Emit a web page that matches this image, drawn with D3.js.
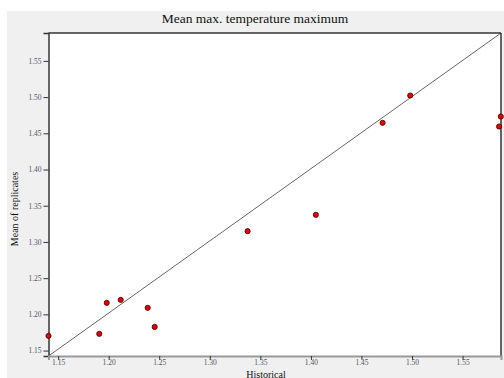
<!DOCTYPE html>
<html><head><meta charset="utf-8">
<script src="https://cdn.jsdelivr.net/npm/d3@7"></script>
<style>body{margin:0;background:#fff;}svg{display:block;}</style>
</head><body>
<svg id="c" width="504" height="378"></svg>
<script>
const title = "Mean max. temperature maximum";
const xLabel = "Historical";
const yLabel = "Mean of replicates";
const historical = [1.1405,1.1907,1.1981,1.2119,1.2386,1.2455,1.3374,1.4049,1.4709,1.4982,1.5878,1.5861];
const replicates = [1.1703,1.1731,1.2159,1.2200,1.2090,1.1827,1.3149,1.3374,1.4645,1.5022,1.4732,1.4594];
const xTicks = [1.15,1.20,1.25,1.30,1.35,1.40,1.45,1.50,1.55];
const yTicks = [1.15,1.20,1.25,1.30,1.35,1.40,1.45,1.50,1.55];
const xDomain = [1.1405, 1.588];
const yDomain = [1.1425, 1.5885];

const svg = d3.select("#c");
const L = 48.5, R = 501, T = 33, B = 356;
const x = d3.scaleLinear().domain(xDomain).range([L, R]);
const y = d3.scaleLinear().domain(yDomain).range([B, T]);

svg.append("rect").attr("x",7).attr("y",11).attr("width",497).attr("height",367).attr("fill","#f0f0f0");
svg.append("rect").attr("x",L).attr("y",T).attr("width",R-L).attr("height",B-T).attr("fill","#fff");

svg.append("text").attr("x",255).attr("y",23).attr("text-anchor","middle")
  .attr("font-family","Liberation Serif, serif").attr("font-size",13.5).attr("fill","#111").text(title);

// diagonal reference line
svg.append("line").attr("x1",x(xDomain[0])).attr("y1",y(yDomain[0]))
  .attr("x2",x(xDomain[1])).attr("y2",y(yDomain[1])).attr("stroke","#666").attr("stroke-width",1);

// borders
svg.append("line").attr("x1",L).attr("y1",T).attr("x2",R).attr("y2",T).attr("stroke","#333").attr("stroke-width",1.5);
svg.append("line").attr("x1",R).attr("y1",T).attr("x2",R).attr("y2",B).attr("stroke","#333").attr("stroke-width",1.5);

// axes
const yAxis = d3.axisLeft(y).tickValues(yTicks).tickFormat(d3.format(".2f")).tickSize(5).tickPadding(2);
const gy = svg.append("g").attr("transform",`translate(${L},0)`).call(yAxis);
gy.select(".domain").attr("stroke","#333").attr("stroke-width",1.5);
gy.selectAll(".tick line").attr("stroke","#333");
gy.selectAll(".tick text").attr("font-family","Liberation Serif, serif").attr("font-size",7.5).attr("fill","#556");

const xAxis = d3.axisBottom(x).tickValues(xTicks).tickFormat(d3.format(".2f")).tickSize(4).tickPadding(0);
const gx = svg.append("g").attr("transform",`translate(0,${B})`).call(xAxis);
gx.select(".domain").attr("stroke","#999").attr("stroke-width",2);
gx.selectAll(".tick line").attr("stroke","#333");
gx.selectAll(".tick text").attr("font-family","Liberation Serif, serif").attr("font-size",7.5).attr("fill","#556");

// points
svg.append("g").selectAll("circle").data(historical.map((h,i)=>[h,replicates[i]])).join("circle")
  .attr("cx",d=>x(d[0])).attr("cy",d=>y(d[1])).attr("r",2.6)
  .attr("fill","#e00000").attr("stroke","#440000").attr("stroke-width",0.8);

svg.append("text").attr("x",266).attr("y",377.5).attr("text-anchor","middle")
  .attr("font-family","Liberation Serif, serif").attr("font-size",10).attr("fill","#111").text(xLabel);
svg.append("text").attr("transform","translate(18,209) rotate(-90)").attr("text-anchor","middle")
  .attr("font-family","Liberation Serif, serif").attr("font-size",10).attr("fill","#111").text(yLabel);
</script>
</body></html>
